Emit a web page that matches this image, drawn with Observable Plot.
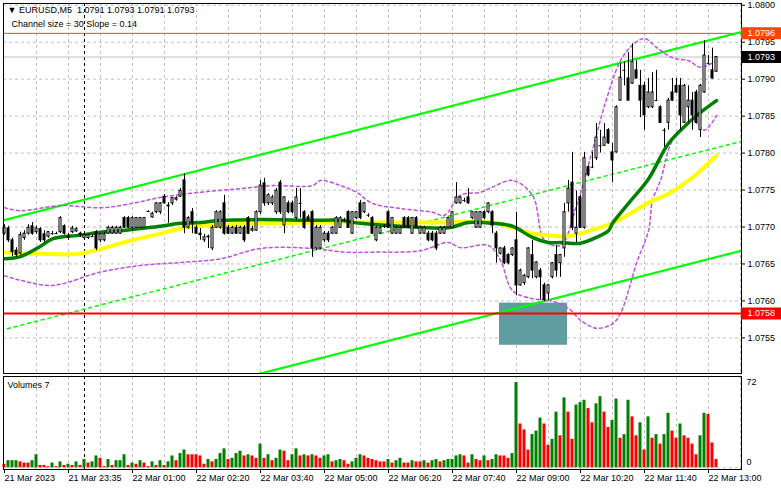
<!DOCTYPE html>
<html><head><meta charset="utf-8">
<script src="https://cdn.jsdelivr.net/npm/d3@7"></script>
<script src="https://cdn.jsdelivr.net/npm/@observablehq/plot@0.6"></script>
<style>
body{margin:0;background:#fff;}
#chart{position:relative;width:781px;height:489px;overflow:hidden;background:#fff;}
#chart svg{position:absolute;left:0;}
</style></head><body><div id="chart"></div>
<script>
// ---- data ----
const symbolName = "EURUSD,M5";
const lastOHLC = [1.0791, 1.0793, 1.0791, 1.0793];
const channelSize = 30, channelSlope = 0.14;
const currentVolume = 7;

const opens = [
1.07691,1.07698,1.07682,1.07668,1.07664,1.07685,1.07691,1.07701,1.07693,1.07697,
1.07690,1.07687,1.07691,1.07691,1.07693,1.07701,1.07687,1.07693,1.07694,1.07691,
1.07685,1.07685,1.07687,1.07693,1.07682,1.07682,1.07691,1.07691,1.07691,1.07691,
1.07712,1.07712,1.07699,1.07699,1.07699,1.07699,1.07721,1.07713,1.07720,1.07720,
1.07741,1.07728,1.07732,1.07737,1.07741,1.07763,1.07699,1.07720,1.07699,1.07691,
1.07682,1.07687,1.07671,1.07699,1.07699,1.07732,1.07699,1.07691,1.07699,1.07691,
1.07699,1.07712,1.07695,1.07695,1.07720,1.07759,1.07732,1.07732,1.07720,1.07760,
1.07702,1.07732,1.07732,1.07712,1.07732,1.07720,1.07713,1.07720,1.07671,1.07671,
1.07682,1.07691,1.07691,1.07691,1.07699,1.07709,1.07720,1.07691,1.07712,1.07732,
1.07720,1.07716,1.07712,1.07682,1.07691,1.07701,1.07720,1.07691,1.07691,1.07691,
1.07712,1.07712,1.07691,1.07712,1.07691,1.07691,1.07691,1.07691,1.07691,1.07691,
1.07691,1.07699,1.07699,1.07732,1.07732,1.07736,1.07740,1.07712,1.07699,1.07699,
1.07720,1.07720,1.07720,1.07691,1.07664,1.07671,1.07662,1.07662,1.07682,1.07621,
1.07624,1.07632,1.07662,1.07632,1.07641,1.07621,1.07610,1.07632,1.07662,1.07651,
1.07671,1.07732,1.07760,1.07691,1.07740,1.07699,1.07781,1.07781,1.07793,1.07810,
1.07810,1.07831,1.07801,1.07801,1.07871,1.07912,1.07901,1.07894,1.07912,1.07891,
1.07891,1.07862,1.07862,1.07871,1.07862,1.07831,1.07841,1.07882,1.07891,1.07891,
1.07841,1.07862,1.07871,1.07882,1.07831,1.07882,1.07921,1.07912,1.07910];
const highs = [
1.07703,1.07701,1.07685,1.07672,1.07693,1.07695,1.07703,1.07706,1.07701,1.07699,
1.07695,1.07694,1.07694,1.07693,1.07714,1.07703,1.07691,1.07701,1.07699,1.07693,
1.07691,1.07690,1.07690,1.07695,1.07691,1.07693,1.07701,1.07701,1.07701,1.07701,
1.07714,1.07714,1.07714,1.07713,1.07713,1.07713,1.07722,1.07720,1.07733,1.07733,
1.07744,1.07733,1.07740,1.07741,1.07752,1.07772,1.07714,1.07725,1.07702,1.07698,
1.07690,1.07689,1.07702,1.07722,1.07722,1.07743,1.07702,1.07701,1.07702,1.07701,
1.07702,1.07714,1.07701,1.07722,1.07763,1.07766,1.07745,1.07743,1.07752,1.07763,
1.07741,1.07735,1.07735,1.07752,1.07752,1.07722,1.07716,1.07722,1.07702,1.07702,
1.07694,1.07694,1.07701,1.07714,1.07714,1.07712,1.07722,1.07721,1.07721,1.07736,
1.07733,1.07718,1.07714,1.07701,1.07701,1.07703,1.07722,1.07713,1.07701,1.07701,
1.07714,1.07714,1.07713,1.07714,1.07701,1.07701,1.07694,1.07694,1.07694,1.07701,
1.07701,1.07713,1.07721,1.07760,1.07741,1.07739,1.07752,1.07721,1.07721,1.07721,
1.07722,1.07733,1.07722,1.07694,1.07672,1.07674,1.07664,1.07672,1.07720,1.07643,
1.07636,1.07672,1.07682,1.07653,1.07644,1.07624,1.07622,1.07652,1.07675,1.07663,
1.07732,1.07763,1.07801,1.07749,1.07743,1.07801,1.07783,1.07801,1.07840,1.07831,
1.07840,1.07833,1.07813,1.07864,1.07921,1.07923,1.07936,1.07948,1.07925,1.07912,
1.07896,1.07901,1.07909,1.07912,1.07864,1.07833,1.07874,1.07901,1.07901,1.07901,
1.07893,1.07891,1.07882,1.07885,1.07893,1.07952,1.07932,1.07942,1.07930];
const lows = [
1.07689,1.07679,1.07660,1.07659,1.07662,1.07682,1.07689,1.07689,1.07690,1.07679,
1.07679,1.07685,1.07689,1.07690,1.07691,1.07689,1.07682,1.07691,1.07693,1.07686,
1.07682,1.07683,1.07686,1.07668,1.07679,1.07680,1.07690,1.07690,1.07690,1.07690,
1.07698,1.07698,1.07695,1.07698,1.07698,1.07698,1.07720,1.07712,1.07718,1.07717,
1.07731,1.07705,1.07729,1.07735,1.07740,1.07691,1.07697,1.07691,1.07690,1.07682,
1.07679,1.07671,1.07668,1.07698,1.07697,1.07689,1.07690,1.07690,1.07690,1.07690,
1.07679,1.07690,1.07693,1.07694,1.07717,1.07728,1.07729,1.07729,1.07717,1.07717,
1.07691,1.07718,1.07718,1.07709,1.07712,1.07697,1.07708,1.07659,1.07668,1.07670,
1.07679,1.07679,1.07690,1.07690,1.07698,1.07706,1.07698,1.07690,1.07710,1.07710,
1.07718,1.07713,1.07690,1.07680,1.07690,1.07698,1.07698,1.07690,1.07690,1.07690,
1.07698,1.07698,1.07690,1.07698,1.07690,1.07690,1.07680,1.07680,1.07668,1.07690,
1.07690,1.07698,1.07698,1.07731,1.07731,1.07733,1.07731,1.07710,1.07698,1.07698,
1.07710,1.07718,1.07691,1.07651,1.07662,1.07649,1.07649,1.07660,1.07607,1.07620,
1.07621,1.07630,1.07630,1.07630,1.07601,1.07599,1.07601,1.07630,1.07632,1.07632,
1.07659,1.07720,1.07695,1.07679,1.07698,1.07697,1.07768,1.07779,1.07790,1.07800,
1.07809,1.07812,1.07760,1.07800,1.07870,1.07891,1.07870,1.07893,1.07900,1.07848,
1.07831,1.07860,1.07860,1.07870,1.07840,1.07808,1.07831,1.07870,1.07881,1.07831,
1.07840,1.07841,1.07831,1.07840,1.07821,1.07881,1.07920,1.07900,1.07910];
const closes = [
1.07699,1.07682,1.07666,1.07662,1.07689,1.07691,1.07699,1.07691,1.07698,1.07682,
1.07682,1.07693,1.07691,1.07691,1.07712,1.07691,1.07686,1.07698,1.07697,1.07689,
1.07689,1.07689,1.07687,1.07671,1.07690,1.07690,1.07699,1.07699,1.07699,1.07699,
1.07699,1.07699,1.07712,1.07712,1.07712,1.07712,1.07721,1.07718,1.07732,1.07732,
1.07732,1.07729,1.07739,1.07739,1.07749,1.07699,1.07712,1.07705,1.07691,1.07689,
1.07686,1.07686,1.07699,1.07720,1.07720,1.07691,1.07691,1.07699,1.07691,1.07699,
1.07682,1.07691,1.07697,1.07720,1.07756,1.07732,1.07743,1.07740,1.07749,1.07720,
1.07740,1.07720,1.07720,1.07740,1.07732,1.07699,1.07709,1.07671,1.07699,1.07699,
1.07691,1.07682,1.07699,1.07712,1.07712,1.07709,1.07699,1.07720,1.07720,1.07712,
1.07732,1.07716,1.07691,1.07699,1.07699,1.07701,1.07699,1.07712,1.07699,1.07699,
1.07699,1.07699,1.07712,1.07699,1.07699,1.07699,1.07682,1.07682,1.07671,1.07699,
1.07699,1.07712,1.07720,1.07740,1.07740,1.07736,1.07732,1.07720,1.07720,1.07720,
1.07712,1.07732,1.07702,1.07671,1.07671,1.07651,1.07651,1.07671,1.07621,1.07641,
1.07634,1.07671,1.07641,1.07652,1.07632,1.07601,1.07621,1.07651,1.07641,1.07662,
1.07720,1.07752,1.07699,1.07699,1.07699,1.07793,1.07770,1.07781,1.07821,1.07810,
1.07821,1.07813,1.07790,1.07862,1.07902,1.07912,1.07871,1.07923,1.07901,1.07871,
1.07851,1.07882,1.07882,1.07871,1.07841,1.07831,1.07871,1.07871,1.07882,1.07851,
1.07891,1.07871,1.07851,1.07841,1.07891,1.07932,1.07921,1.07901,1.07930];
const volumes = [
3,6,6,6,5,4,4,6,11,2, 2,1,4,1,5,2,3,2,5,2, 7,4,5,10,8,1,7,2,6,6,
11,2,4,3,6,4,1,5,2,6, 2,5,10,6,12,15,11,11,11,10, 3,7,5,7,12,16,7,8,12,14,
10,11,10,8,20,8,11,6,8,15, 14,6,11,16,10,11,10,11,10,8, 10,11,5,6,7,6,3,5,8,11,
10,8,7,6,5,5,7,4,6,8, 4,4,6,5,5,6,4,6,7,5, 6,7,7,10,11,10,4,11,7,6,
10,6,7,11,10,10,8,12,72,37, 32,15,28,31,42,37,19,24,47,27, 59,47,24,53,55,57,50,38,54,60,
47,34,40,58,25,28,57,43,27,38, 15,43,25,28,20,28,46,31,25,37, 27,25,20,11,27,46,45,21,7];
const volumeUp = [
0,1,1,1,0,0,0,1,1,0, 0,0,1,0,1,0,1,0,1,0, 1,0,1,1,0,0,1,0,1,1,
1,0,1,0,1,0,0,1,0,1, 0,1,1,0,1,1,0,0,0,0, 0,1,0,1,1,1,0,1,1,1,
0,1,0,0,1,0,1,0,1,1, 0,0,1,1,0,1,0,1,0,0, 1,1,0,1,1,0,0,1,1,1,
0,0,0,0,0,0,1,0,1,1, 0,0,1,0,0,1,0,1,1,0, 1,1,1,1,1,0,0,1,0,0,
1,0,1,1,0,0,0,1,1,0, 0,0,1,1,1,0,0,1,1,0, 1,0,0,1,1,1,0,0,1,1,
0,0,1,1,0,1,1,0,0,1, 0,1,0,1,0,1,1,0,0,1, 0,0,0,0,1,1,0,0,0];

// moving averages (bar index, price)
const maFastBars = [0,4,9,12,19,24,29,34,39,44,49,54,64,77,84,89,99,111,116,122,127,132,136,139,144,148,151,152,156,161,166,171,174,178];
const maFastPrices = [1.07657,1.07660,1.07674,1.07684,1.07689,1.07693,1.07695,1.07698,1.07701,1.07705,1.07706,1.07709,1.07710,1.07709,1.07709,1.07705,1.07701,1.07699,1.07706,1.07705,1.07701,1.07686,1.07679,1.07679,1.07678,1.07686,1.07695,1.07705,1.07732,1.07765,1.07813,1.07841,1.07855,1.07871];
const maSlowBars = [0,7,16,19,24,29,34,39,44,49,54,64,89,106,122,127,132,136,140,144,148,152,157,161,166,172,178];
const maSlowPrices = [1.07666,1.07664,1.07663,1.07664,1.07670,1.07678,1.07685,1.07691,1.07698,1.07702,1.07703,1.07705,1.07706,1.07706,1.07706,1.07699,1.07691,1.07689,1.07687,1.07691,1.07698,1.07705,1.07720,1.07733,1.07745,1.07767,1.07797];
// envelope bands
const bandUpperBars = [0,4,14,24,32,39,49,59,67,77,79,84,88,92,99,107,110,114,119,122,127,132,135,139,143,147,150,154,157,160,163,167,171,174,178];
const bandUpperPrices = [1.07726,1.07722,1.07729,1.07726,1.07732,1.07740,1.07747,1.07752,1.07756,1.07756,1.07763,1.07756,1.07747,1.07732,1.07725,1.07720,1.07716,1.07743,1.07747,1.07754,1.07763,1.07743,1.07682,1.07675,1.07729,1.07804,1.07864,1.07925,1.07946,1.07955,1.07943,1.07929,1.07925,1.07916,1.07925];
const bandLowerBars = [0,4,12,24,34,44,54,64,77,85,92,104,111,114,121,124,127,132,136,141,144,148,152,154,156,158,161,162,164,167,172,175,178];
const bandLowerPrices = [1.07634,1.07628,1.07621,1.07639,1.07648,1.07652,1.07657,1.07671,1.07671,1.07666,1.07666,1.07668,1.07679,1.07672,1.07675,1.07655,1.07614,1.07603,1.07601,1.07590,1.07574,1.07563,1.07569,1.07583,1.07614,1.07651,1.07695,1.07736,1.07763,1.07817,1.07844,1.07831,1.07851];

// regression channel (bar index, price at both ends)
const channelBars = [-1, 185];
const channelUpper = [1.07708, 1.07965];
const channelMiddle = [1.07560, 1.07817];
const channelLower = [1.07412, 1.07669];

const supportLevel = 1.07583;
const upperLevel = 1.07962;
const bidPrice = 1.0793;
const zoneBars = [123.75, 140.75];
const zonePrices = [1.07540, 1.07597];
const daySeparatorBar = 20;

const priceTicks = [1.0755,1.0760,1.0765,1.0770,1.0775,1.0780,1.0785,1.0790,1.0795,1.0800];
const timeTickBars = [0,16,32,48,64,80,96,112,128,144,160,176];
const timeTickLabels = ["21 Mar 2023","21 Mar 23:35","22 Mar 01:00","22 Mar 02:20","22 Mar 03:40","22 Mar 05:00","22 Mar 06:20","22 Mar 07:40","22 Mar 09:00","22 Mar 10:20","22 Mar 11:40","22 Mar 13:00"];
const gridBars = d3.range(8, 185, 8);

// ---- build tables ----
const bars = opens.map((o, i) => ({i, open: o, high: highs[i], low: lows[i], close: closes[i]}));
const bodies = bars.filter(d => d.open !== d.close);
const dojis = bars.filter(d => d.open === d.close);
const vols = volumes.map((v, i) => ({i, v, up: volumeUp[i]}));
const pts = (xs, ys) => xs.map((x, k) => ({x, y: ys[k]}));
const priceTags = [
  {price: upperLevel, color: "#ff4500", label: "1.0796"},
  {price: bidPrice, color: "#000000", label: bidPrice.toFixed(4)},
  {price: supportLevel, color: "#ff0000", label: "1.0758"}
];

const xDomain = [-0.25, 184.25];
const font = "'Liberation Sans', Arial, sans-serif";
const grid = {stroke: "#c0c0c0", strokeDasharray: "3,3"};
const bandStyle = {stroke: "#c050e0", strokeDasharray: "3,3", curve: "catmull-rom", clip: true};

const main = Plot.plot({
  width: 781, height: 375,
  marginLeft: 3, marginRight: 40, marginTop: 3, marginBottom: 2,
  style: {fontFamily: font, fontSize: "9px", background: "white", overflow: "visible"},
  x: {domain: xDomain, axis: null, label: null},
  y: {domain: [1.075018, 1.080024], axis: null, label: null},
  color: {type: "identity"},
  marks: [
    Plot.ruleX(gridBars, {x: d => d, ...grid}),
    Plot.ruleY(priceTicks, {y: d => d, ...grid}),
    Plot.ruleX([daySeparatorBar], {x: d => d, stroke: "black", strokeDasharray: "3,3"}),
    Plot.rect([0], {x1: () => zoneBars[0], x2: () => zoneBars[1], y1: () => zonePrices[0], y2: () => zonePrices[1], fill: "#5f9ea0"}),
    Plot.ruleY([bidPrice], {y: d => d, stroke: "#c0c0c0"}),
    Plot.ruleY([upperLevel], {y: d => d, stroke: "#ff4500"}),
    Plot.line(pts(channelBars, channelMiddle), {x: "x", y: "y", stroke: "#00ff00", strokeDasharray: "3,4", clip: true}),
    Plot.line(pts(channelBars, channelUpper), {x: "x", y: "y", stroke: "#00ff00", strokeWidth: 2.2, clip: true}),
    Plot.line(pts(channelBars, channelLower), {x: "x", y: "y", stroke: "#00ff00", strokeWidth: 2.2, clip: true}),
    Plot.line(pts(bandUpperBars, bandUpperPrices), {x: "x", y: "y", ...bandStyle}),
    Plot.line(pts(bandLowerBars, bandLowerPrices), {x: "x", y: "y", ...bandStyle}),
    Plot.line(pts(maSlowBars, maSlowPrices), {x: "x", y: "y", stroke: "#ffff00", strokeWidth: 4, curve: "catmull-rom"}),
    Plot.line(pts(maFastBars, maFastPrices), {x: "x", y: "y", stroke: "#008000", strokeWidth: 3.5, curve: "catmull-rom"}),
    Plot.ruleX(bars, {x: "i", y1: "low", y2: "high", stroke: "black"}),
    Plot.rect(bodies, {x1: d => d.i - 0.25, x2: d => d.i + 0.25,
      y1: d => Math.min(d.open, d.close), y2: d => Math.max(d.open, d.close),
      fill: d => d.close > d.open ? "white" : "black", stroke: "black"}),
    Plot.ruleY(dojis, {y: "open", x1: d => d.i - 0.375, x2: d => d.i + 0.375, stroke: "black"}),
    Plot.ruleY([supportLevel], {y: d => d, stroke: "#ff0000", strokeWidth: 2}),
    Plot.frame({stroke: "black"}),
    Plot.axisY({anchor: "right", ticks: priceTicks, tickFormat: d => d.toFixed(4), tickSize: 3, tickPadding: 3, label: null}),
    Plot.ruleY(priceTags, {y: "price", x1: () => xDomain[1], x2: () => xDomain[1] + 10, stroke: "color", strokeWidth: 12}),
    Plot.text(priceTags, {y: "price", frameAnchor: "right", dx: 6, text: "label", textAnchor: "start", fill: "white"}),
    Plot.text([`\u25BC ${symbolName}\u00a0\u00a0${lastOHLC.map(v => v.toFixed(4)).join(" ")}`],
      {frameAnchor: "top-left", dx: 4, dy: 7, text: d => d, textAnchor: "start", lineAnchor: "middle"}),
    Plot.text([`Channel size = ${channelSize} Slope = ${channelSlope}`],
      {frameAnchor: "top-left", dx: 8, dy: 21, text: d => d, textAnchor: "start", lineAnchor: "middle"})
  ]
});

const labelOf = new Map(timeTickBars.map((b, k) => [b, timeTickLabels[k]]));
const vol = Plot.plot({
  width: 781, height: 114,
  marginLeft: 3, marginRight: 40, marginTop: 1, marginBottom: 20,
  style: {fontFamily: font, fontSize: "9px", background: "white", overflow: "visible"},
  x: {domain: xDomain, axis: null, label: null},
  y: {domain: [-1.43, 77.07], axis: null, label: null},
  color: {type: "identity"},
  marks: [
    Plot.ruleX(gridBars, {x: d => d, ...grid}),
    Plot.ruleY([0], {y: d => d, ...grid}),
    Plot.ruleX([daySeparatorBar], {x: d => d, stroke: "black", strokeDasharray: "3,3"}),
    Plot.rect(vols, {x1: d => d.i - 0.375, x2: d => d.i + 0.375, y1: () => 0, y2: "v",
      fill: d => d.up ? "#008000" : "#ff0000"}),
    Plot.frame({stroke: "black"}),
    Plot.axisX({anchor: "bottom", ticks: timeTickBars, tickFormat: d => labelOf.get(d), tickSize: 4, tickPadding: 1, textAnchor: "start", label: null}),
    Plot.text([72], {y: d => d, frameAnchor: "right", dx: 5, text: d => String(d), textAnchor: "start"}),
    Plot.text([0], {y: d => d, frameAnchor: "right", dx: 5, dy: -6, text: d => String(d), textAnchor: "start"}),
    Plot.text([`Volumes ${currentVolume}`], {frameAnchor: "top-left", dx: 4, dy: 9, text: d => d, textAnchor: "start", lineAnchor: "middle"})
  ]
});

const root = document.getElementById("chart");
main.style.top = "0px";
vol.style.top = "375px";
root.appendChild(main);
root.appendChild(vol);
</script></body></html>
